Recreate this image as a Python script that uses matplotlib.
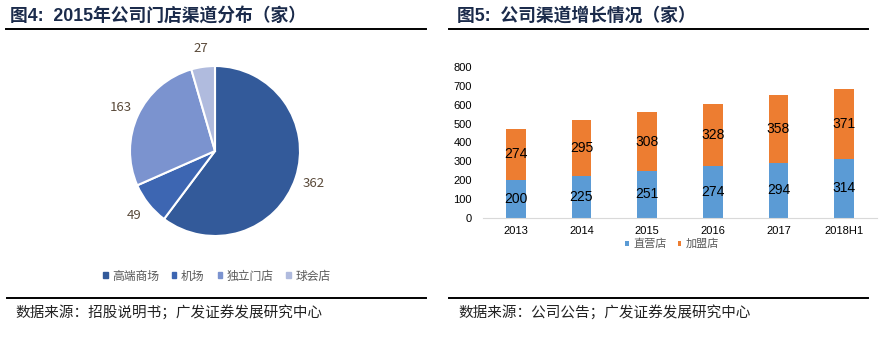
import matplotlib.pyplot as plt
from matplotlib.lines import Line2D
from matplotlib.patches import Patch
import numpy as np

plt.rcParams['font.family'] = ['Noto Sans CJK SC', 'DejaVu Sans']
latin = ['Liberation Sans', 'Noto Sans CJK SC']

# 2015 store distribution by channel
pie_labels = ['高端商场', '机场', '独立门店', '球会店']
pie_values = [362, 49, 163, 27]
pie_colors = ['#335A9A', '#3D66B2', '#7B93CF', '#B0BBDE']

# channel growth
years = ['2013', '2014', '2015', '2016', '2017', '2018H1']
direct = [200, 225, 251, 274, 294, 314]
franchise = [274, 295, 308, 328, 358, 371]

W, H = 885, 348
fig = plt.figure(figsize=(W / 100, H / 100), dpi=100)

def px(x0, y0, x1, y1):
    # pixel box (top-left origin) -> figure rect
    return [x0 / W, 1 - y1 / H, (x1 - x0) / W, (y1 - y0) / H]

def hline(x0, x1, y):
    fig.add_artist(Line2D([x0 / W, x1 / W], [1 - y / H, 1 - y / H],
                          color='black', lw=1.4, transform=fig.transFigure))

title_color = '#1B2B4B'
fig.text(10 / W, 1 - 16 / H, '图4:  2015年公司门店渠道分布（家）', fontsize=12.8,
         fontweight='bold', color=title_color, va='center', family=latin)
fig.text(457 / W, 1 - 16 / H, '图5:  公司渠道增长情况（家）', fontsize=12.8,
         fontweight='bold', color=title_color, va='center', family=latin)
hline(6, 426, 29)
hline(449, 868, 29)
hline(7, 426, 298)
hline(449, 868, 298)
fig.text(15 / W, 1 - 312 / H, '数据来源：招股说明书；广发证券发展研究中心', fontsize=10.5,
         color='#222222', va='center')
fig.text(458 / W, 1 - 312 / H, '数据来源：公司公告；广发证券发展研究中心', fontsize=10.5,
         color='#222222', va='center')

# pie
ax1 = fig.add_axes(px(115, 51, 315, 251))
wedges, texts = ax1.pie(pie_values, colors=pie_colors, startangle=90, counterclock=False,
                        labels=[str(v) for v in pie_values], labeldistance=1.22,
                        wedgeprops=dict(edgecolor='white', linewidth=1.5),
                        textprops=dict(fontsize=9.5, color='#5A4A3A'))
for t in texts:
    t.set_ha('center')
    t.set_va('center')
lim = 100 / 85
ax1.set_xlim(-lim, lim)
ax1.set_ylim(-lim, lim)
ax1.set_aspect('equal')
handles = [Patch(color=c, label=l) for c, l in zip(pie_colors, pie_labels)]
fig.legend(handles=handles, loc='center', bbox_to_anchor=(217 / W, 1 - 276 / H), ncol=4,
           frameon=False, fontsize=8.5, handlelength=0.35, handleheight=0.35,
           handletextpad=0.4, columnspacing=1.1, labelcolor='#595959')

# stacked bars
ax2 = fig.add_axes(px(483, 67, 877, 218))
x = np.arange(len(years))
bw = 0.3
b1 = ax2.bar(x, direct, bw, color='#5B9BD5', label='直营店')
b2 = ax2.bar(x, franchise, bw, bottom=direct, color='#ED7D31', label='加盟店')
ax2.bar_label(b1, label_type='center', fontsize=10, color='black', family=latin)
ax2.bar_label(b2, label_type='center', fontsize=10, color='black', family=latin)
ax2.set_xlim(-0.5, len(years) - 0.5)
ax2.set_ylim(0, 800)
ax2.set_yticks(range(0, 801, 100))
ax2.set_xticks(x, years)
for lab in ax2.get_xticklabels() + ax2.get_yticklabels():
    lab.set_family(latin)
for s in ['top', 'right', 'left']:
    ax2.spines[s].set_visible(False)
ax2.spines['bottom'].set_color('#D9D9D9')
ax2.tick_params(axis='both', length=0, labelsize=8, colors='black')
ax2.tick_params(axis='y', pad=8)
ax2.tick_params(axis='x', pad=6)
ax2.legend(loc='center', bbox_to_anchor=(672 / W, 1 - 244 / H), bbox_transform=fig.transFigure,
           ncol=2, frameon=False, fontsize=8, handlelength=0.35, handleheight=0.35,
           handletextpad=0.4, columnspacing=1.0, labelcolor='#595959')

fig.savefig('out.png', dpi=100)
